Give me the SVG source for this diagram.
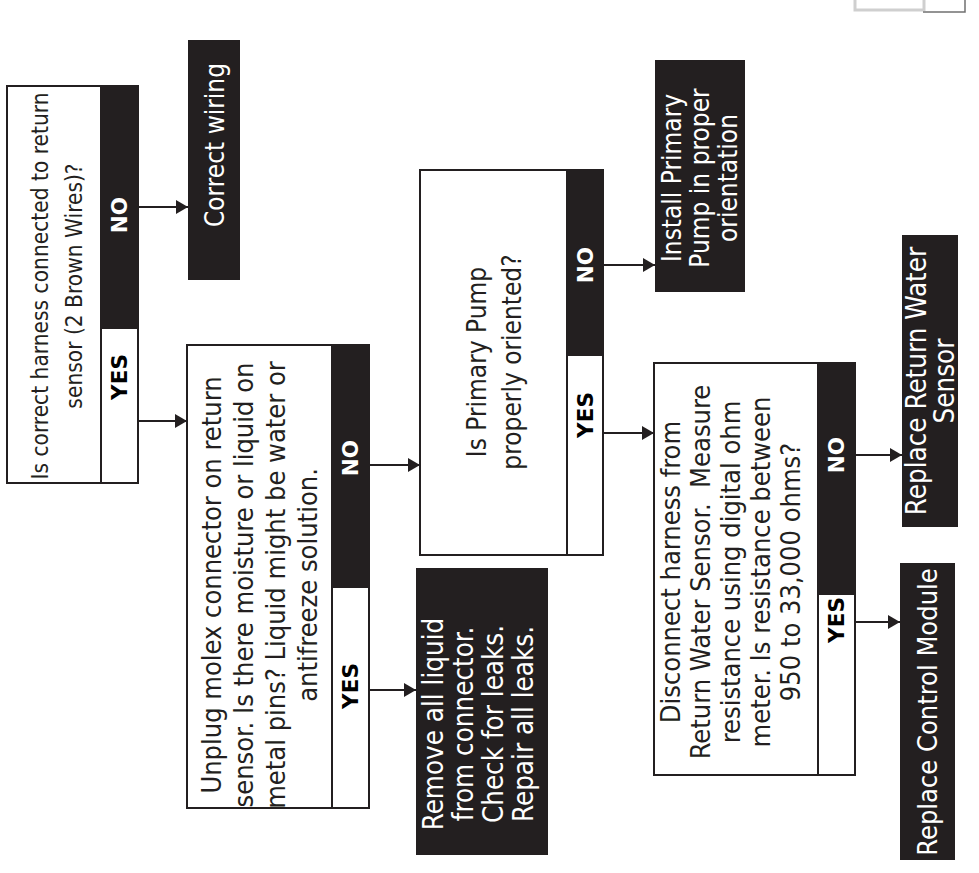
<svg xmlns="http://www.w3.org/2000/svg" width="979" height="873" viewBox="0 0 979 873">
<defs>
<marker id="ah" markerWidth="12" markerHeight="14" refX="12" refY="7" orient="auto" markerUnits="userSpaceOnUse"><path d="M0,0 L12,7 L0,14 Z" fill="#231f20"/></marker>
<style>
.box{fill:#fff;stroke:#231f20;stroke-width:2}
.blk{fill:#231f20}
.t{font-family:"DejaVu Sans Condensed","DejaVu Sans",Verdana,sans-serif;font-stretch:condensed;fill:#231f20;text-anchor:middle}
.w{fill:#fff}
.lbl{font-family:"DejaVu Sans",Verdana,sans-serif;font-weight:bold;font-size:21.5px;text-anchor:middle}
.con{stroke:#231f20;stroke-width:2;fill:none;marker-end:url(#ah)}
</style>
</defs>
<rect width="979" height="873" fill="#fff"/>
<g id="corner">
<path d="M855,0 V10 H923" fill="none" stroke="#cfcfcf" stroke-width="3"/>
<line x1="924" y1="0" x2="924" y2="11" stroke="#cfcfcf" stroke-width="3"/>
<path d="M923,12 H965 V0" fill="none" stroke="#707070" stroke-width="1.5"/>
</g>
<g id="q1">
<rect class="box" x="7" y="86" width="131" height="397"/>
<rect class="blk" x="101" y="86" width="37" height="243"/>
<line x1="101" y1="86" x2="101" y2="483" stroke="#231f20" stroke-width="2"/>
<text class="t" font-size="22.5" transform="translate(48,286) rotate(-90)">Is correct harness connected to return</text>
<text class="t" font-size="22.5" transform="translate(82,286) rotate(-90)">sensor (2 Brown Wires)?</text>
<text class="lbl w" transform="translate(127,215) rotate(-90)">NO</text>
<text class="lbl" transform="translate(127,377) rotate(-90)">YES</text>
</g>
<g id="correct-wiring">
<rect class="blk" x="188" y="40" width="52" height="240"/>
<text class="t w" font-size="26" transform="translate(223.5,145) rotate(-90)">Correct wiring</text>
</g>
<g id="q2">
<rect class="box" x="187" y="345" width="182" height="463"/>
<rect class="blk" x="332" y="345" width="37" height="243"/>
<line x1="332" y1="345" x2="332" y2="808" stroke="#231f20" stroke-width="2"/>
<text class="t" font-size="27" transform="translate(221,585) rotate(-90)">Unplug molex connector on return</text>
<text class="t" font-size="27" transform="translate(253,585) rotate(-90)">sensor. Is there moisture or liquid on</text>
<text class="t" font-size="27" transform="translate(285,585) rotate(-90)">metal pins? Liquid might be water or</text>
<text class="t" font-size="27" transform="translate(317,585) rotate(-90)">antifreeze solution.</text>
<text class="lbl w" transform="translate(358,458) rotate(-90)">NO</text>
<text class="lbl" transform="translate(358,686) rotate(-90)">YES</text>
</g>
<g id="remove-liquid">
<rect class="blk" x="416" y="568" width="132" height="287"/>
<text class="t w" font-size="27.5" transform="translate(443,724) rotate(-90)">Remove all liquid</text>
<text class="t w" font-size="27.5" transform="translate(473,724) rotate(-90)">from connector.</text>
<text class="t w" font-size="27.5" transform="translate(503,724) rotate(-90)">Check for leaks.</text>
<text class="t w" font-size="27.5" transform="translate(533,724) rotate(-90)">Repair all leaks.</text>
</g>
<g id="q3">
<rect class="box" x="420" y="170" width="183" height="385"/>
<rect class="blk" x="567" y="170" width="36" height="186"/>
<line x1="567" y1="170" x2="567" y2="555" stroke="#231f20" stroke-width="2"/>
<text class="t" font-size="26" transform="translate(486,362) rotate(-90)">Is Primary Pump</text>
<text class="t" font-size="26" transform="translate(521,362) rotate(-90)">properly oriented?</text>
<text class="lbl w" transform="translate(592.5,265) rotate(-90)">NO</text>
<text class="lbl" transform="translate(592.5,415) rotate(-90)">YES</text>
</g>
<g id="install-pump">
<rect class="blk" x="655" y="60" width="90" height="232"/>
<text class="t w" font-size="26" transform="translate(681,178) rotate(-90)">Install Primary</text>
<text class="t w" font-size="26" transform="translate(709,178) rotate(-90)">Pump in proper</text>
<text class="t w" font-size="26" transform="translate(737,178) rotate(-90)">orientation</text>
</g>
<g id="q4">
<rect class="box" x="654" y="363" width="201" height="412"/>
<rect class="blk" x="818" y="363" width="37" height="232"/>
<line x1="818" y1="363" x2="818" y2="775" stroke="#231f20" stroke-width="2"/>
<text class="t" font-size="27" transform="translate(680,572) rotate(-90)">Disconnect harness from</text>
<text class="t" font-size="27" transform="translate(710,572) rotate(-90)">Return Water Sensor.&#160; Measure</text>
<text class="t" font-size="27" transform="translate(740,572) rotate(-90)">resistance using digital ohm</text>
<text class="t" font-size="27" transform="translate(770,572) rotate(-90)">meter. Is resistance between</text>
<text class="t" font-size="27" transform="translate(800,572) rotate(-90)">950 to 33,000 ohms?</text>
<text class="lbl w" transform="translate(844,455) rotate(-90)">NO</text>
<text class="lbl" transform="translate(844,620) rotate(-90)">YES</text>
</g>
<g id="replace-sensor">
<rect class="blk" x="902" y="235" width="56" height="292"/>
<text class="t w" font-size="27.5" transform="translate(926,381) rotate(-90)">Replace Return Water</text>
<text class="t w" font-size="27.5" transform="translate(954,381) rotate(-90)">Sensor</text>
</g>
<g id="replace-module">
<rect class="blk" x="900" y="563" width="55" height="297"/>
<text class="t w" font-size="27" transform="translate(937,712) rotate(-90)">Replace Control Module</text>
</g>
<g id="connectors">
<line class="con" x1="138" y1="207" x2="188" y2="207"/>
<line class="con" x1="138" y1="421" x2="187" y2="421"/>
<line class="con" x1="369" y1="465" x2="420" y2="465"/>
<line class="con" x1="369" y1="690" x2="416" y2="690"/>
<line class="con" x1="603" y1="265" x2="655" y2="265"/>
<line class="con" x1="603" y1="433" x2="654" y2="433"/>
<line class="con" x1="855" y1="455" x2="902" y2="455"/>
<line class="con" x1="855" y1="622" x2="900" y2="622"/>
</g>
</svg>
